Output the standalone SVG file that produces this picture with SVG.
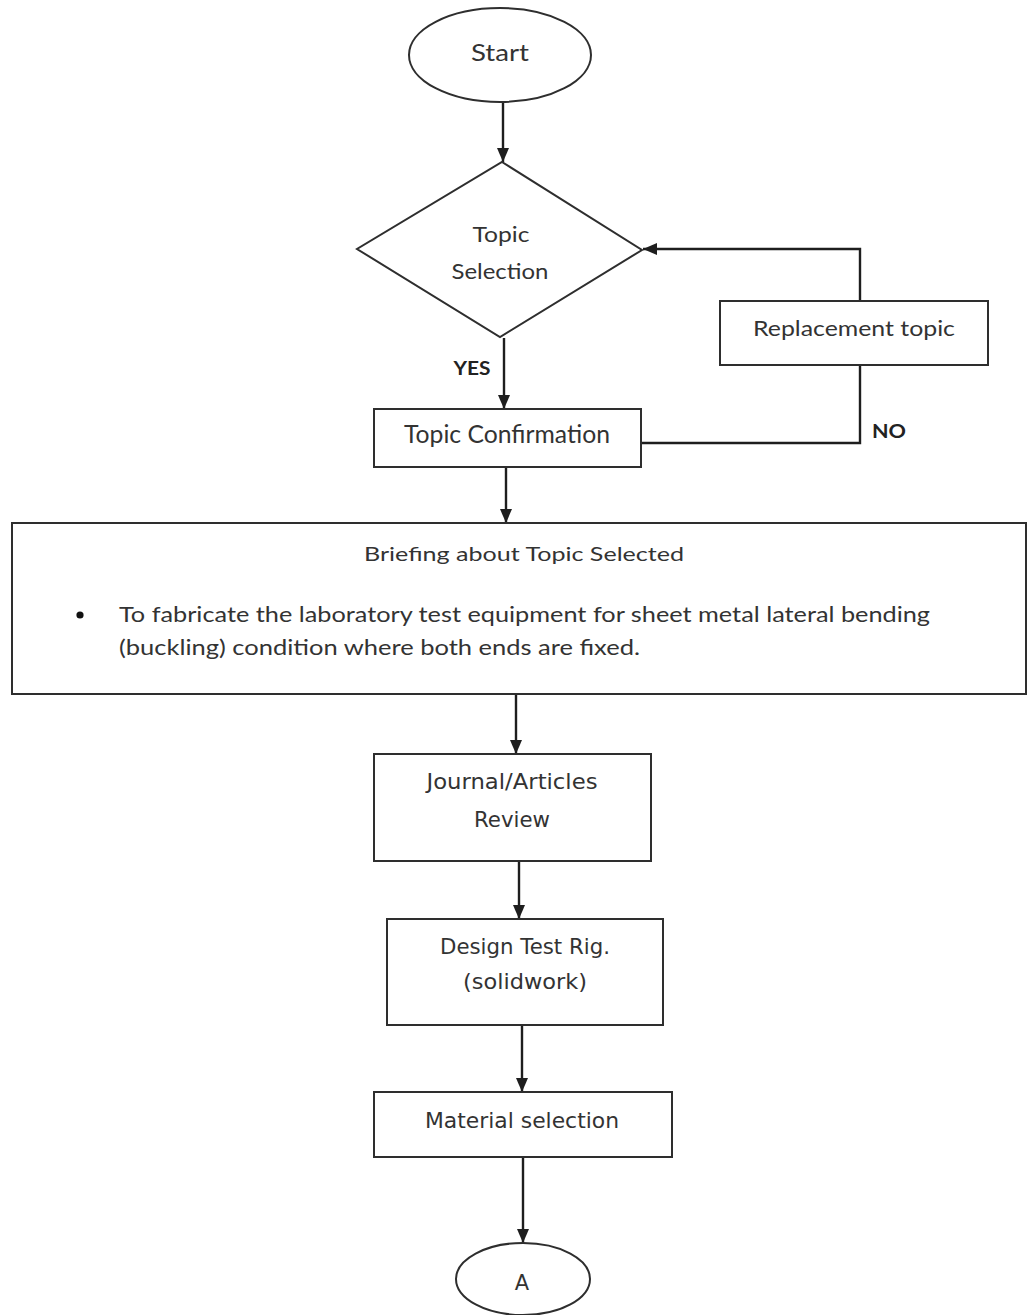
<svg xmlns="http://www.w3.org/2000/svg" width="1027" height="1315" viewBox="0 0 1027 1315">
<style>
.shape{fill:#ffffff;stroke:#2e2e2e;stroke-width:2}
.conn{fill:none;stroke:#1e1e1e;stroke-width:2.4}
.cal{font-family:Lato,"Liberation Sans",sans-serif;fill:#333333;text-anchor:middle}
.ver{font-family:"DejaVu Sans","Liberation Sans",sans-serif;fill:#333333;text-anchor:middle;font-size:21px}
.lbl{font-family:Lato,"Liberation Sans",sans-serif;font-weight:bold;fill:#222222;font-size:19.5px}
</style>
<defs>
<marker id="arr" markerUnits="userSpaceOnUse" markerWidth="14" markerHeight="14" viewBox="0 0 14 12" refX="14" refY="6" orient="auto">
<path d="M0,0 L14,6 L0,12 Z" fill="#1e1e1e"/>
</marker>
</defs>
<rect width="1027" height="1315" fill="#ffffff"/>

<g id="connectors">
<line class="conn" x1="503" y1="101" x2="503" y2="162" marker-end="url(#arr)"/>
<polyline class="conn" points="860,301 860,249 643,249" marker-end="url(#arr)"/>
<line class="conn" x1="504" y1="338" x2="504" y2="409" marker-end="url(#arr)"/>
<polyline class="conn" points="641,443 860,443 860,365"/>
<line class="conn" x1="506" y1="467" x2="506" y2="523" marker-end="url(#arr)"/>
<line class="conn" x1="516" y1="694" x2="516" y2="754" marker-end="url(#arr)"/>
<line class="conn" x1="519" y1="861" x2="519" y2="919" marker-end="url(#arr)"/>
<line class="conn" x1="522" y1="1025" x2="522" y2="1092" marker-end="url(#arr)"/>
<line class="conn" x1="523" y1="1157" x2="523" y2="1243" marker-end="url(#arr)"/>
<text class="lbl" x="472" y="375" text-anchor="middle" textLength="37" lengthAdjust="spacingAndGlyphs">YES</text>
<text class="lbl" x="872" y="438" textLength="34" lengthAdjust="spacingAndGlyphs">NO</text>
</g>

<g id="start">
<ellipse class="shape" cx="500" cy="55" rx="91" ry="47"/>
<text class="cal" x="500" y="61" font-size="24" textLength="58" lengthAdjust="spacingAndGlyphs">Start</text>
</g>

<g id="topic-selection">
<polygon class="shape" points="502,162 642,250 500,337 357,249"/>
<text class="cal" x="501" y="242" font-size="21" textLength="57" lengthAdjust="spacingAndGlyphs">Topic</text>
<text class="cal" x="500" y="279" font-size="21" textLength="97" lengthAdjust="spacingAndGlyphs">Selection</text>
</g>

<g id="replacement-topic">
<rect class="shape" x="720" y="301" width="268" height="64"/>
<text class="cal" x="854" y="336" font-size="21" textLength="202" lengthAdjust="spacingAndGlyphs">Replacement topic</text>
</g>

<g id="topic-confirmation">
<rect class="shape" x="374" y="409" width="267" height="58"/>
<text class="cal" x="507" y="443" font-size="25" textLength="206" lengthAdjust="spacingAndGlyphs">Topic Confirmation</text>
</g>

<g id="briefing">
<rect class="shape" x="12" y="523" width="1014" height="171"/>
<text class="cal" x="524" y="561" font-size="20" textLength="320" lengthAdjust="spacingAndGlyphs">Briefing about Topic Selected</text>
<circle cx="80" cy="615" r="3.6" fill="#111111"/>
<text class="cal" x="119" y="622" font-size="21" text-anchor="start" style="text-anchor:start" textLength="811" lengthAdjust="spacingAndGlyphs">To fabricate the laboratory test equipment for sheet metal lateral bending</text>
<text class="cal" x="119" y="655" font-size="21" style="text-anchor:start" textLength="521" lengthAdjust="spacingAndGlyphs">(buckling) condition where both ends are fixed.</text>
</g>

<g id="journal-review">
<rect class="shape" x="374" y="754" width="277" height="107"/>
<text class="ver" x="512" y="789" textLength="171" lengthAdjust="spacingAndGlyphs">Journal/Articles</text>
<text class="ver" x="512" y="827" textLength="76" lengthAdjust="spacingAndGlyphs">Review</text>
</g>

<g id="design-test-rig">
<rect class="shape" x="387" y="919" width="276" height="106"/>
<text class="ver" x="525" y="954" textLength="170" lengthAdjust="spacingAndGlyphs">Design Test Rig.</text>
<text class="ver" x="525" y="989" textLength="124" lengthAdjust="spacingAndGlyphs">(solidwork)</text>
</g>

<g id="material-selection">
<rect class="shape" x="374" y="1092" width="298" height="65"/>
<text class="ver" x="522" y="1128" textLength="194" lengthAdjust="spacingAndGlyphs">Material selection</text>
</g>

<g id="connector-a">
<ellipse class="shape" cx="523" cy="1279" rx="67" ry="36"/>
<text class="ver" x="522" y="1290">A</text>
</g>
</svg>
